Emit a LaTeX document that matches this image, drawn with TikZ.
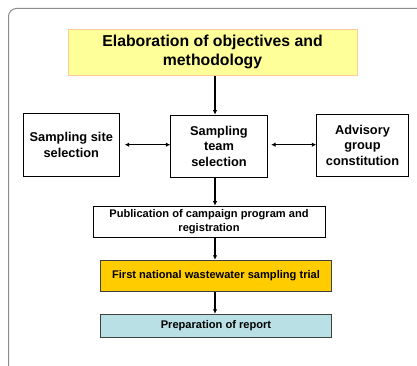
\documentclass[tikz,border=0pt]{standalone}
\usepackage{fontspec}
\setmainfont{Liberation Sans}
\usetikzlibrary{arrows.meta,positioning,calc}

\definecolor{objfill}{HTML}{FFFF99}
\definecolor{objline}{HTML}{FFCC99}
\definecolor{trialfill}{HTML}{FFCC00}
\definecolor{reportfill}{HTML}{B9E0E4}
\definecolor{framegray}{HTML}{8C8C8C}

\begin{document}
\begin{tikzpicture}[x=1pt,y=-1pt,
        box/.style={draw=black,line width=0.8pt,inner sep=0pt,align=center,font=\bfseries},
        flow/.style={-{Latex[length=4.5pt,width=4.5pt]},line width=1.2pt},
        both/.style={{Latex[length=4.5pt,width=4.5pt]}-{Latex[length=4.5pt,width=4.5pt]},line width=1.2pt}]
        \useasboundingbox (0,0) rectangle (417,366);
        %%% frame
        \draw[framegray,line width=1pt,rounded corners=8pt] (8.5,366) -- (8.5,8.5) -- (417,8.5);

        %%% boxes
        \node[box,draw=objline,fill=objfill,minimum width=289pt,minimum height=46pt,
              font=\fontsize{15.8}{19}\selectfont\bfseries] (obj) at (212.5,52.4)
              {Elaboration of objectives and\\methodology};
        \node[box,minimum width=96pt,minimum height=62.5pt,
              font=\fontsize{12.8}{16}\selectfont\bfseries] (site) at (71.3,144.7)
              {Sampling site\\selection};
        \node[box,minimum width=96.5pt,minimum height=62pt,
              font=\fontsize{12.8}{15.5}\selectfont\bfseries] (team) at (219,146)
              {Sampling\\team\\selection};
        \node[box,minimum width=91.7pt,minimum height=62pt,
              font=\fontsize{12.8}{15.5}\selectfont\bfseries] (advis) at (362.5,145)
              {Advisory\\group\\constitution};
        \node[box,minimum width=232pt,minimum height=31.3pt,
              font=\fontsize{11.1}{13.5}\selectfont\bfseries] (pub) at (209,221.7)
              {Publication of campaign program and\\registration};
        \node[box,draw=black!75,fill=trialfill,minimum width=231.4pt,minimum height=31.7pt,
              font=\fontsize{11.1}{13.5}\selectfont\bfseries] (trial) at (216,276)
              {First national wastewater sampling trial};
        \node[box,draw=black!75,fill=reportfill,minimum width=231.4pt,minimum height=23.7pt,
              font=\fontsize{11.1}{13.5}\selectfont\bfseries] (report) at (216,326)
              {Preparation of report};

        \coordinate (axis) at (215,0);

        %%% connectors
        \draw[flow] (obj.south -| axis) -- (team.north -| axis);
        \draw[flow] (team.south -| axis) -- (pub.north -| axis);
        \draw[flow] (pub.south -| axis) -- (trial.north -| axis);
        \draw[flow] (trial.south -| axis) -- (report.north -| axis);
        \draw[both,shorten <=5pt] (site.east) -- (team.west |- site.east);
        \draw[both,shorten <=3.5pt] (team.east |- site.east) -- (advis.west |- site.east);
\end{tikzpicture}
\end{document}
